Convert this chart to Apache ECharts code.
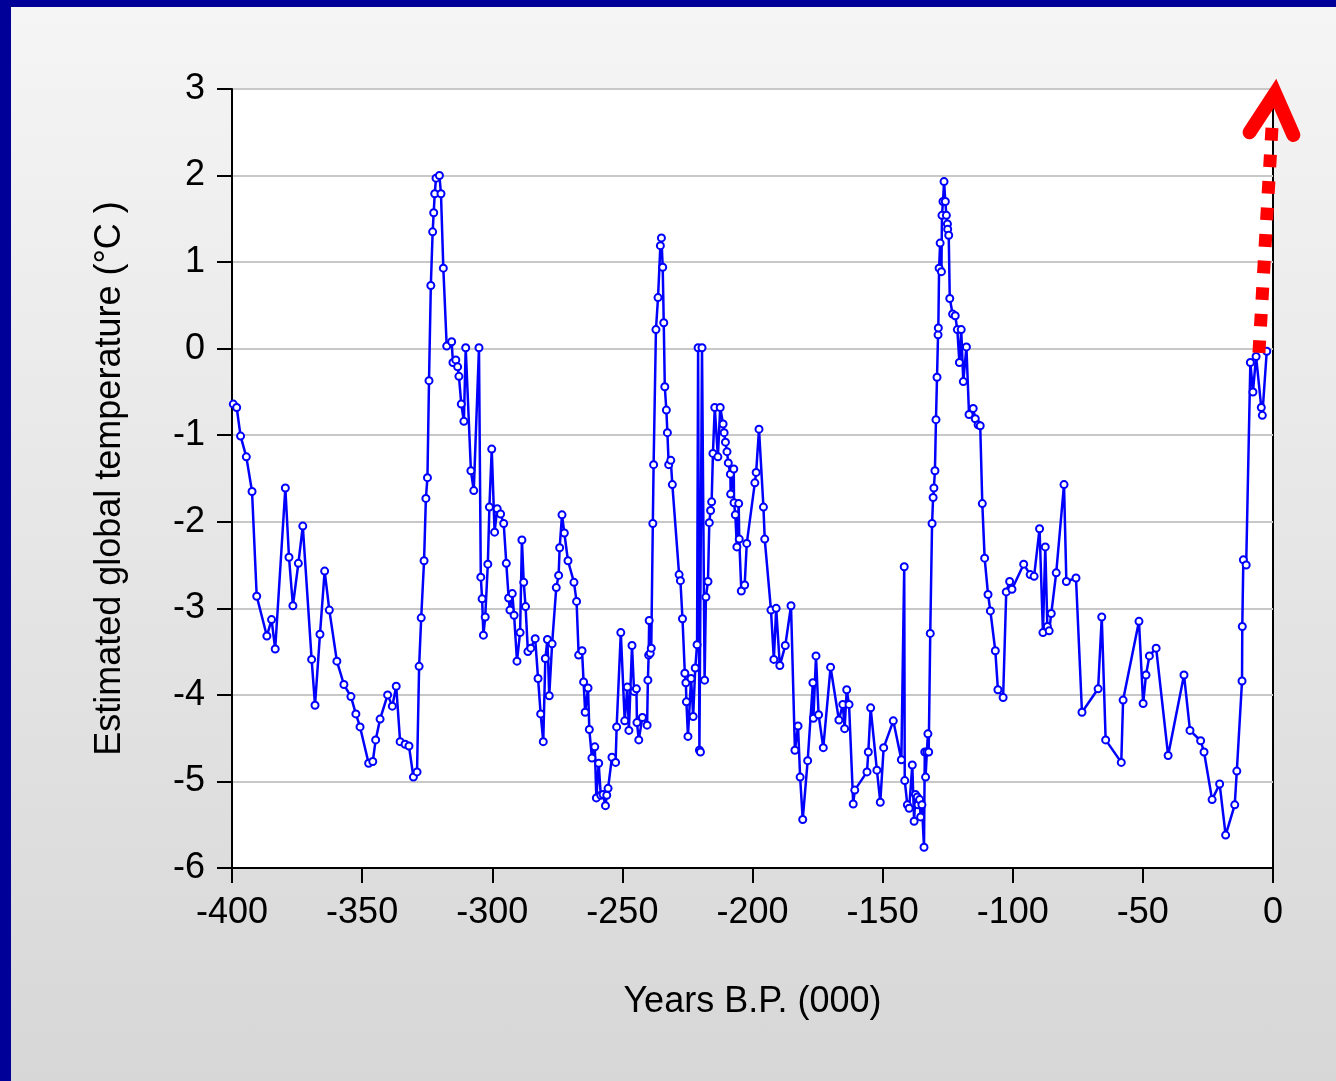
<!DOCTYPE html>
<html>
<head>
<meta charset="utf-8">
<script src="https://cdn.jsdelivr.net/npm/echarts@6/dist/echarts.min.js"></script>
<style>
  html, body { margin: 0; padding: 0; width: 1336px; height: 1081px; overflow: hidden; background: #000099; }
  #chart { position: absolute; left: 11px; top: 7px; width: 1325px; height: 1074px;
           background: linear-gradient(#f5f5f5, #d7d7d7); }
</style>
</head>
<body>
<div id="chart"></div>
<script>
// Age of each sample, thousands of years before present
const years = [
  -399.5, -398.2, -396.7, -394.5, -392.3, -390.5, -386.6, -384.8, -383.4, -379.5,
  -378.1, -376.6, -374.5, -372.8, -369.4, -368.1, -366.2, -364.4, -362.6, -359.7,
  -357.0, -354.3, -352.4, -350.8, -347.5, -345.9, -344.8, -343.1, -340.2, -338.4,
  -336.9, -335.4, -333.5, -332.0, -330.3, -328.9, -328.1, -327.3, -326.2, -325.5,
  -324.9, -324.3, -323.6, -322.9, -322.5, -322.1, -321.6, -320.3, -319.7, -318.8,
  -317.5, -315.6, -315.1, -314.0, -313.3, -312.8, -311.9, -310.9, -310.2, -308.2,
  -307.1, -305.1, -304.4, -303.9, -303.4, -302.7, -301.7, -301.1, -300.2, -299.1,
  -298.1, -296.8, -295.6, -294.6, -293.7, -293.2, -292.3, -291.6, -290.5, -289.3,
  -288.6, -287.9, -287.2, -286.3, -285.2, -283.5, -282.4, -281.4, -280.4, -279.6,
  -278.8, -278.1, -277.0, -275.4, -274.5, -274.1, -273.2, -272.3, -270.9, -268.6,
  -267.6, -266.8, -265.5, -264.9, -264.3, -263.2, -262.7, -261.7, -260.6, -260.0,
  -259.1, -258.3, -257.4, -256.5, -256.0, -255.5, -254.0, -252.6, -252.2, -250.6,
  -249.1, -248.1, -247.5, -246.3, -245.5, -244.6, -244.4, -243.7, -242.3, -240.5,
  -240.2, -239.9, -239.7, -239.3, -238.9, -238.3, -238.0, -237.1, -236.3, -235.4,
  -235.0, -234.5, -234.1, -233.7, -233.1, -232.7, -232.2, -231.4, -230.8, -228.2,
  -227.7, -226.9, -226.0, -225.6, -225.4, -224.8, -223.6, -222.8, -222.0, -221.3,
  -220.9, -220.4, -220.0, -219.4, -218.4, -217.9, -217.1, -216.6, -216.1, -215.7,
  -215.2, -214.5, -213.3, -212.4, -211.3, -210.9, -210.4, -209.8, -209.3, -208.5,
  -208.4, -207.2, -207.1, -206.6, -206.0, -205.3, -205.1, -204.3, -203.0, -202.2,
  -199.1, -198.6, -197.5, -195.8, -195.3, -192.9, -191.8, -190.9, -189.5, -187.4,
  -185.2, -183.7, -182.5, -181.7, -180.7, -178.8, -176.8, -176.6, -175.6, -174.6,
  -172.8, -170.0, -166.8, -165.3, -164.6, -163.8, -162.9, -161.3, -160.7, -156.0,
  -155.5, -154.6, -152.2, -150.9, -149.6, -145.9, -142.8, -141.7, -141.5, -140.5,
  -139.8, -138.6, -137.9, -137.4, -136.7, -136.4, -135.8, -135.4, -134.9, -134.1,
  -133.8, -133.5, -133.0, -132.6, -132.3, -131.7, -131.0, -130.6, -130.3, -129.9,
  -129.5, -129.1, -128.7, -128.6, -128.3, -127.9, -127.4, -127.2, -126.8, -126.4,
  -125.9, -125.5, -125.1, -125.0, -124.6, -124.2, -123.1, -122.1, -121.3, -120.5,
  -119.8, -119.0, -117.8, -116.8, -115.2, -114.4, -113.3, -112.5, -111.7, -110.8,
  -109.5, -108.6, -106.7, -105.7, -103.7, -102.5, -101.2, -100.3, -95.8, -93.3,
  -91.8, -89.7, -88.4, -87.5, -86.7, -86.0, -85.2, -83.3, -80.3, -79.4,
  -75.7, -73.4, -67.2, -65.8, -64.3, -58.3, -57.6, -51.5, -49.9, -48.8,
  -47.5, -44.9, -40.3, -34.2, -31.9, -27.8, -26.5, -23.4, -20.5, -18.2,
  -14.7, -13.9, -11.9, -11.8, -11.4, -10.3, -8.7, -7.7, -6.5, -4.5,
  -4.1, -2.4
];

// Estimated global temperature anomaly at each sample, °C
const temps = [
  -0.64, -0.68, -1.01, -1.25, -1.65, -2.86, -3.32, -3.13, -3.47, -1.61,
  -2.41, -2.97, -2.48, -2.05, -3.59, -4.12, -3.30, -2.57, -3.02, -3.61,
  -3.88, -4.02, -4.22, -4.37, -4.79, -4.77, -4.52, -4.28, -4.00, -4.13,
  -3.90, -4.54, -4.57, -4.59, -4.95, -4.89, -3.67, -3.11, -2.45, -1.73,
  -1.49, -0.37, 0.73, 1.35, 1.57, 1.79, 1.97, 2.00, 1.79, 0.93,
  0.03, 0.08, -0.16, -0.13, -0.21, -0.32, -0.64, -0.84, 0.01, -1.41,
  -1.64, 0.01, -2.64, -2.89, -3.31, -3.10, -2.49, -1.83, -1.16, -2.12,
  -1.85, -1.91, -2.02, -2.48, -2.88, -3.02, -2.83, -3.08, -3.61, -3.28,
  -2.21, -2.70, -2.98, -3.50, -3.46, -3.35, -3.81, -4.22, -4.54, -3.58,
  -3.36, -4.01, -3.41, -2.76, -2.62, -2.30, -1.92, -2.13, -2.45, -2.70,
  -2.92, -3.54, -3.49, -3.85, -4.20, -3.92, -4.40, -4.73, -4.60, -5.19,
  -4.79, -5.16, -5.15, -5.28, -5.16, -5.08, -4.72, -4.78, -4.37, -3.28,
  -4.30, -3.91, -4.41, -3.43, -3.96, -3.93, -4.32, -4.52, -4.26, -4.35,
  -3.83, -3.54, -3.14, -3.52, -3.46, -2.02, -1.34, 0.22, 0.59, 1.19,
  1.28, 0.94, 0.30, -0.44, -0.71, -0.97, -1.34, -1.29, -1.57, -2.61,
  -2.68, -3.12, -3.75, -3.86, -4.08, -4.48, -3.81, -4.25, -3.69, -3.42,
  0.01, -4.64, -4.66, 0.01, -3.83, -2.87, -2.69, -2.01, -1.87, -1.77,
  -1.21, -0.68, -1.25, -0.68, -0.87, -0.97, -1.08, -1.19, -1.32, -1.45,
  -1.68, -1.39, -1.78, -1.92, -2.29, -1.79, -2.20, -2.80, -2.73, -2.25,
  -1.55, -1.43, -0.93, -1.83, -2.20, -3.02, -3.59, -3.00, -3.66, -3.43,
  -2.97, -4.64, -4.36, -4.95, -5.44, -4.76, -3.86, -4.27, -3.55, -4.23,
  -4.61, -3.68, -4.29, -4.11, -4.39, -3.94, -4.11, -5.26, -5.10, -4.89,
  -4.66, -4.15, -4.87, -5.24, -4.61, -4.30, -4.75, -2.52, -4.99, -5.27,
  -5.31, -4.81, -5.46, -5.15, -5.18, -5.27, -5.21, -5.41, -5.27, -5.76,
  -4.66, -4.95, -4.66, -4.45, -4.66, -3.29, -2.02, -1.72, -1.61, -1.41,
  -0.82, -0.33, 0.16, 0.24, 0.93, 1.22, 0.89, 1.54, 1.70, 1.93,
  1.70, 1.54, 1.44, 1.38, 1.31, 0.58, 0.40, 0.38, 0.22, -0.16,
  0.22, -0.38, 0.02, -0.76, -0.69, -0.81, -0.88, -0.89, -1.79, -2.42,
  -2.84, -3.03, -3.49, -3.94, -4.03, -2.81, -2.69, -2.78, -2.49, -2.61,
  -2.63, -2.08, -3.28, -2.29, -3.21, -3.26, -3.06, -2.59, -1.57, -2.69,
  -2.65, -4.20, -3.93, -3.10, -4.52, -4.78, -4.06, -3.15, -4.10, -3.77,
  -3.55, -3.46, -4.70, -3.77, -4.41, -4.53, -4.66, -5.21, -5.03, -5.62,
  -5.27, -4.88, -3.84, -3.21, -2.44, -2.50, -0.16, -0.50, -0.09, -0.68,
  -0.77, -0.03
];

// Projected warming: dotted shaft and arrowhead (years, °C)
const arrowYears = [-5.4, -0.4];
const arrowTemps = [-0.05, 2.55];
const headYears = [-9.0, 0.8, 7.8];
const headTemps = [2.5, 2.95, 2.47];

// Axis ranges and steps
const xRange = { min: -400, max: 0, step: 50 };
const yRange = { min: -6, max: 3, step: 1 };

const zip = (xs, ys) => xs.map((x, i) => [x, ys[i]]);
const font = 'Liberation Sans, Arial, sans-serif';

const chart = echarts.init(document.getElementById('chart'), null, { renderer: 'canvas' });
chart.setOption({
  animation: false,
  backgroundColor: 'transparent',
  grid: {
    left: 221, top: 82, right: 63, bottom: 213,
    show: true, backgroundColor: '#ffffff', borderColor: '#000000', borderWidth: 2
  },
  xAxis: {
    type: 'value',
    min: xRange.min, max: xRange.max, interval: xRange.step,
    name: 'Years B.P. (000)',
    nameLocation: 'middle', nameGap: 116,
    nameTextStyle: { fontFamily: font, fontSize: 36, color: '#000' },
    axisLine: { show: true, onZero: false, lineStyle: { color: '#000', width: 2 } },
    axisTick: { show: true, length: 15, lineStyle: { color: '#000', width: 2 } },
    axisLabel: { margin: 27, fontFamily: font, fontSize: 36, color: '#000' },
    splitLine: { show: false }
  },
  yAxis: {
    type: 'value',
    min: yRange.min, max: yRange.max, interval: yRange.step,
    name: 'Estimated global temperature (°C )',
    nameLocation: 'middle', nameGap: 104, nameRotate: 90,
    nameTextStyle: { fontFamily: font, fontSize: 36, color: '#000' },
    axisLine: { show: true, onZero: false, lineStyle: { color: '#000', width: 2 } },
    axisTick: { show: true, length: 15, lineStyle: { color: '#000', width: 2 } },
    axisLabel: { margin: 27, fontFamily: font, fontSize: 36, color: '#000' },
    splitLine: { show: true, lineStyle: { color: '#c8c8c8', width: 2 } }
  },
  series: [
    {
      name: 'temperature',
      type: 'line',
      data: zip(years, temps),
      symbol: 'emptyCircle',
      symbolSize: 7,
      lineStyle: { color: '#0000ff', width: 2.5 },
      itemStyle: { color: '#0000ff', borderColor: '#0000ff', borderWidth: 1.5 },
      z: 2
    },
    {
      name: 'projection',
      type: 'line',
      data: zip(arrowYears, arrowTemps),
      symbol: 'none',
      clip: false,
      lineStyle: { color: '#ff0000', width: 13, type: [12.6, 14], cap: 'butt' },
      z: 3
    },
    {
      // chevron head drawn as one polyline through the three head points
      name: 'arrowhead',
      type: 'custom',
      data: zip(headYears, headTemps),
      encode: { x: 0, y: 1 },
      clip: false,
      z: 4,
      renderItem: function (params, api) {
        if (params.dataIndex !== 0) return null;
        const pts = headYears.map((x, i) => api.coord([x, headTemps[i]]));
        return {
          type: 'polyline',
          shape: { points: pts },
          style: { stroke: '#ff0000', lineWidth: 14, lineCap: 'round', lineJoin: 'miter', miterLimit: 10, fill: null }
        };
      }
    }
  ]
});
</script>
</body>
</html>
